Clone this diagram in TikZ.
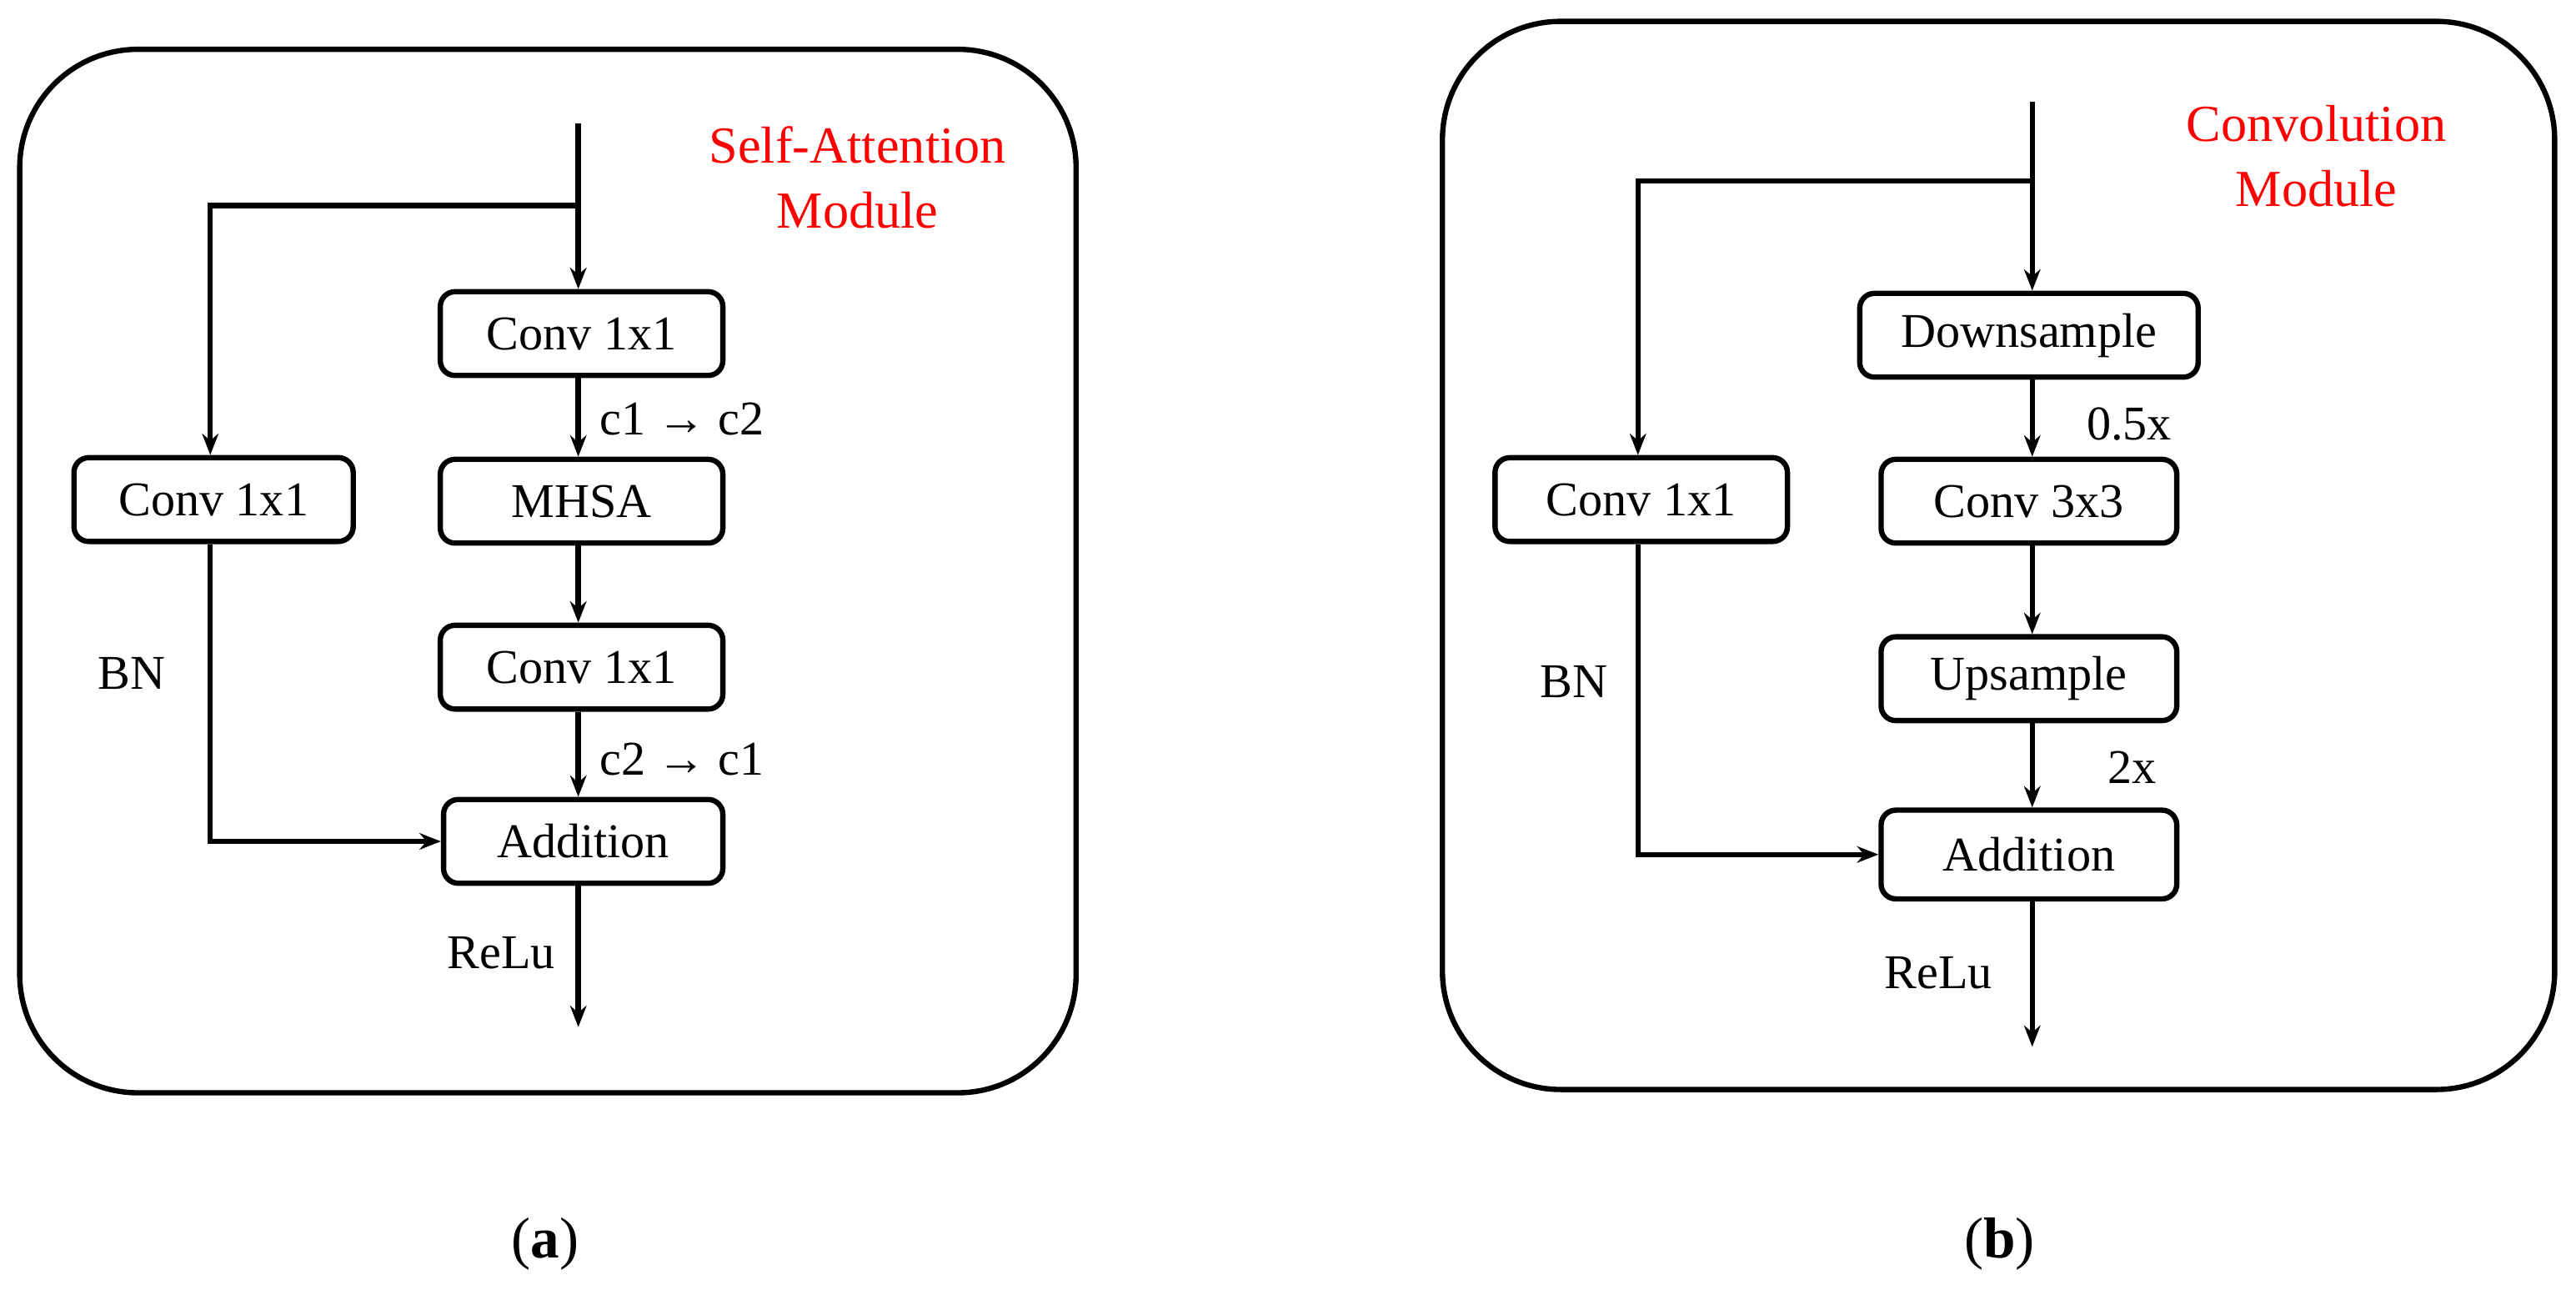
\documentclass[tikz,border=0pt]{standalone}
\usepackage{fontspec}
\setmainfont{Liberation Serif}
\usetikzlibrary{arrows.meta}
\begin{document}
\begin{tikzpicture}[x=0.05cm,y=-0.05cm,
  box/.style={draw,line width=4.6pt,rounded corners=0.45cm,minimum height=2.55cm,inner sep=0pt,font=\fontsize{42}{50}\selectfont},
  panel/.style={draw,line width=4.6pt,rounded corners=3.6cm},
  ln/.style={line width=4.6pt},
  arr/.style={ln,-{Stealth[length=0.65cm,width=0.5cm]}},
  lab/.style={font=\fontsize{42}{50}\selectfont},
  red/.style={text=red,align=center,font=\fontsize{45}{56}\selectfont}]
\useasboundingbox (0,0) rectangle (1568,785);
% panel a
\draw[panel] (12,30) rectangle (655,665);
\node[box,minimum width=8.6cm] (ac1) at (354,203) {Conv 1x1};
\node[box,minimum width=8.6cm] (amh) at (354,305) {MHSA};
\node[box,minimum width=8.6cm] (ac2) at (354,406) {Conv 1x1};
\node[box,minimum width=8.5cm] (aad) at (355,512) {Addition};
\node[box,minimum width=8.5cm] (acl) at (130,304) {Conv 1x1};
\coordinate (ain) at (352,75);
\coordinate (abr) at (352,125);
\coordinate (aout) at (352,625);
\draw[arr] (ain) -- (ain|-ac1.north);
\draw[arr] (abr) -| (128,0|-acl.north);
\draw[arr] (ac1.south-|ain) -- (amh.north-|ain);
\draw[arr] (amh.south-|ain) -- (ac2.north-|ain);
\draw[arr] (ac2.south-|ain) -- (aad.north-|ain);
\draw[arr] (acl.south-|128,0) |- (aad.west);
\draw[arr] (aad.south-|ain) -- (aout);
\node[lab] (alab1) at (415,255) {c1 → c2};
\node[lab] (alab2) at (415,462) {c2 → c1};
\node[lab] (abn) at (80,410) {BN};
\node[lab] (arl) at (305,580) {ReLu};
\node[red] (at) at (522,108) {Self-Attention\\Module};
\node[font=\fontsize{50}{56}\selectfont] (ac) at (332,757) {(\textbf{a})};
% panel b
\draw[panel] (878,13) rectangle (1555,663);
\node[box,minimum width=10.3cm] (bds) at (1235,204) {Downsample};
\node[box,minimum width=9cm] (bc3) at (1235,305) {Conv 3x3};
\node[box,minimum width=9cm] (bup) at (1235,413) {Upsample};
\node[box,minimum width=9cm,minimum height=2.7cm] (bad) at (1235,520) {Addition};
\node[box,minimum width=8.9cm] (bcl) at (999,304) {Conv 1x1};
\coordinate (bin) at (1237,62);
\coordinate (bbr) at (1237,110);
\coordinate (bout) at (1237,637);
\draw[arr] (bin) -- (bin|-bds.north);
\draw[arr] (bbr) -| (997,0|-bcl.north);
\draw[arr] (bds.south-|bin) -- (bc3.north-|bin);
\draw[arr] (bc3.south-|bin) -- (bup.north-|bin);
\draw[arr] (bup.south-|bin) -- (bad.north-|bin);
\draw[arr] (bcl.south-|997,0) |- (bad.west);
\draw[arr] (bad.south-|bin) -- (bout);
\node[lab] (b05) at (1296,258) {0.5x};
\node[lab] (b2) at (1298,467) {2x};
\node[lab] (bbn) at (958,415) {BN};
\node[lab] (brl) at (1180,592) {ReLu};
\node[red] (bt) at (1410,95) {Convolution\\Module};
\node[font=\fontsize{50}{56}\selectfont] (bc) at (1217,757) {(\textbf{b})};
\end{tikzpicture}
\end{document}
